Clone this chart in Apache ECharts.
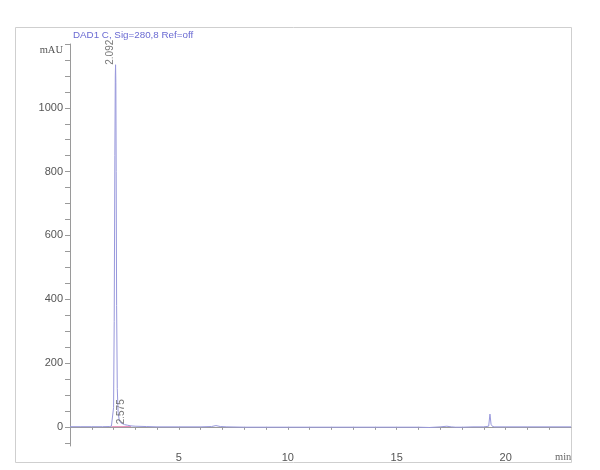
<!DOCTYPE html>
<html><head><meta charset="utf-8">
<script src="https://cdn.jsdelivr.net/npm/echarts@6/dist/echarts.min.js"></script>
<style>html,body{margin:0;padding:0;background:#fff}#c{width:600px;height:470px}</style>
</head><body><div id="c"></div>
<script>
const times  = [0, 0.5, 1.0, 1.5, 1.8, 1.9, 1.96, 2.0, 2.03, 2.06, 2.08, 2.092, 2.105, 2.12, 2.14, 2.17, 2.21, 2.26, 2.32, 2.4, 2.5, 2.575, 2.65, 2.8, 3.0, 3.5, 4, 5, 6, 6.5, 6.7, 6.9, 7.2, 8, 9, 10, 11, 12, 13, 14, 15, 16, 16.5, 17, 17.3, 17.5, 17.7, 18, 18.5, 19, 19.22, 19.28, 19.33, 19.4, 19.5, 20, 21, 22, 23];
const signal = [0.5, 0.5, 0.5, 0.5, 1, 2, 8, 60, 330, 850, 1100, 1135, 1080, 800, 380, 120, 45, 22, 13, 9, 7, 8, 5, 3, 2, 1, 0, 0, 0, 1, 4, 1, 0, -1, -1, -1, -1, -1, -1, -1, -1, -1, -2, 0, 2, 0, -1, -1, 0, 0, 2, 40, 8, 1, 0, 0, 0, 0, 0];
const baselineTimes = [1.9, 2.8];
const baselineValues = [0.5, 1];
const peakTimes = [2.092, 2.575];
const peakHeights = [1135, 8];
const peakLabels = ['2.092', '2.575'];
const yLabelTicks = [0, 200, 400, 600, 800, 1000, 1200];
const yMinorTicks = [-50, 0, 50, 100, 150, 200, 250, 300, 350, 400, 450, 500, 550, 600, 650, 700, 750, 800, 850, 900, 950, 1000, 1050, 1100, 1150, 1200];
const xLabelTicks = [5, 10, 15, 20];
const xMinorTicks = [1, 2, 3, 4, 5, 6, 7, 8, 9, 10, 11, 12, 13, 14, 15, 16, 17, 18, 19, 20, 21, 22];
const titleText = 'DAD1 C, Sig=280,8 Ref=off';

const chart = echarts.init(document.getElementById('c'), null, {renderer: 'canvas'});
const axisColor = '#9a9a9a';
chart.setOption({
  animation: false,
  backgroundColor: '#fff',
  grid: {left: 70, right: 29, top: 44, bottom: 24},
  title: {text: titleText, left: 68, top: 25, textStyle: {color: '#6a6ad2', fontSize: 9.8, fontWeight: 'normal', fontFamily: 'Liberation Sans, Arial'}},
  xAxis: {
    type: 'value', min: 0, max: 23,
    axisLine: {show: true, lineStyle: {color: axisColor}},
    axisTick: {show: true, length: 3, customValues: xMinorTicks, lineStyle: {color: axisColor}},
    axisLabel: {customValues: xLabelTicks, color: '#555', fontSize: 11, fontFamily: 'Liberation Sans, Arial', margin: 6},
    splitLine: {show: false}
  },
  yAxis: {
    type: 'value', min: -60, max: 1200,
    axisLine: {show: true, lineStyle: {color: axisColor}},
    axisTick: {show: true, length: 5, customValues: yMinorTicks, lineStyle: {color: axisColor}},
    axisLabel: {customValues: yLabelTicks, color: '#555', fontSize: 11, fontFamily: 'Liberation Sans, Arial', margin: 7,
      formatter: v => v === 1200 ? '{u|mAU}' : String(v),
      rich: {u: {fontFamily: 'Liberation Serif, Times New Roman', fontSize: 10.5, color: '#555', padding: [12, 0, 0, 0]}}},
    splitLine: {show: false}
  },
  graphic: [
    {type: 'rect', shape: {x: 15.5, y: 27.5, width: 556, height: 435}, style: {fill: 'none', stroke: '#cfcfcf', lineWidth: 1}, z: -1},
    {type: 'text', left: 555, top: 452, style: {text: 'min', fill: '#666', font: '10.5px "Liberation Serif", serif'}}
  ],
  series: [
    {type: 'line', data: times.map((t, i) => [t, signal[i]]), symbol: 'none', lineStyle: {color: '#9898dc', width: 1}, z: 3},
    {type: 'line', data: baselineTimes.map((t, i) => [t, baselineValues[i]]), symbol: 'none', lineStyle: {color: '#e88ab8', width: 1}, z: 2},
    {type: 'scatter', data: peakTimes.map((t, i) => [t, peakHeights[i]]), symbolSize: 0, z: 4,
      label: {show: true, position: 'top', distance: 1, rotate: 90, align: 'left', verticalAlign: 'bottom', offset: [-1, 0],
        formatter: p => peakLabels[p.dataIndex], color: '#555', fontSize: 10, fontFamily: 'Liberation Sans, Arial'}}
  ]
});
</script></body></html>
